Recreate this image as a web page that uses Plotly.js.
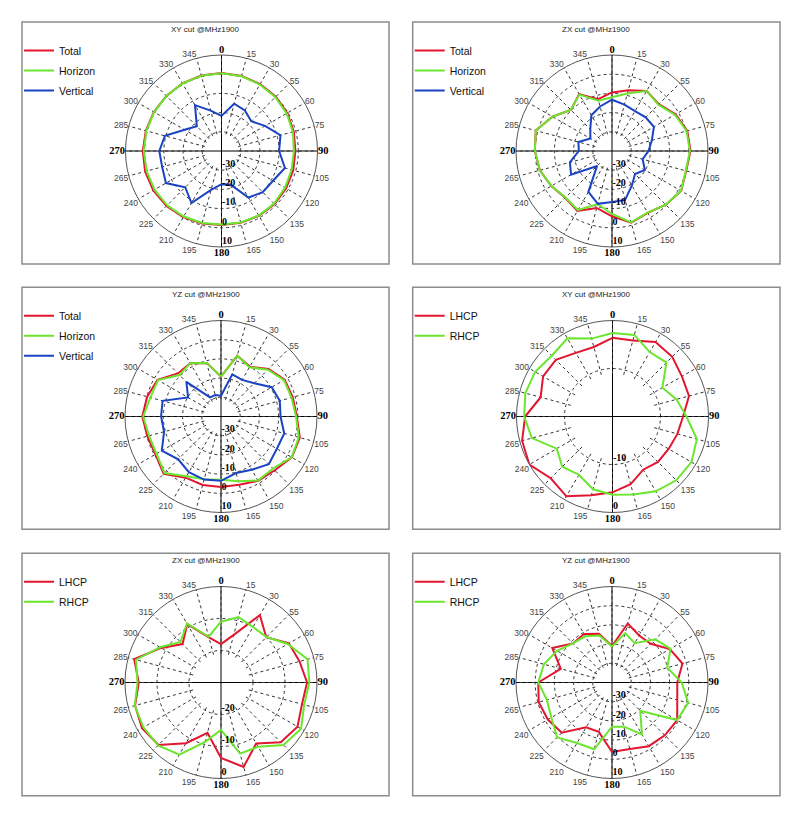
<!DOCTYPE html>
<html><head><meta charset="utf-8">
<script src="https://cdn.plot.ly/plotly-3.0.1.min.js"></script>
<style>html,body{margin:0;padding:0;background:#fff;} #chart{width:800px;height:816px;}</style>
</head><body><div id="chart"></div>
<script>
// ---- data (dB, one value every 15 degrees) ----
const angles = [0,15,30,45,60,75,90,105,120,135,150,165,180,195,210,225,240,255,270,285,300,315,330,345];
const angleLabels = ['0','15','30','55','60','75','90','105','120','135','150','165','180','195','210','225','240','265','270','285','300','315','330','345'];
const panelTitles = ['XY cut @MHz1900','ZX cut @MHz1900','YZ cut @MHz1900','XY cut @MHz1900','ZX cut @MHz1900','YZ cut @MHz1900'];

const xyTotal    = [0.6,0.5,0.2,0,-0.5,-1.0,-1.5,-1.3,-1.1,-0.9,-1.0,-1.3,-1.5,-0.9,-0.2,0.5,1.0,1.2,1.0,0.8,0.7,0.6,0.7,0.7];
const xyHorizon  = [0.5,0.3,0,-0.3,-0.8,-1.5,-2.3,-2.2,-1.8,-1.3,-1.2,-1.5,-1.7,-1.2,-0.6,0,0.3,0.4,0.5,0.5,0.5,0.5,0.6,0.6];
const xyVertical = [-21.7,-14.5,-15.6,-18.1,-13.8,-8.2,-10,-5.8,-9,-9.6,-12,-22,-22.7,-19,-8.7,-13.3,-6.6,-8,-7.6,-9.5,-17.8,-21.8,-12.4,-18.2];

const zxTotal    = [-9.5,-7.3,-3.9,-5.5,-1.8,0.6,0.9,0,1.6,-0.4,-2.8,-1.3,-6,-9.3,-4,-5.5,-3.5,-1.1,0.2,1.1,-4.2,-9.7,-5.8,-12.1];
const zxHorizon  = [-12,-9,-3.9,-5.9,-2.2,0.2,0.6,-0.2,1.5,-0.5,-3,-1.5,-7.2,-11.4,-4.5,-5.7,-3.6,-1.1,0.2,1.1,-4.2,-9.7,-6.1,-12.9];
const zxVertical = [-13.3,-15,-16,-15.2,-14.8,-18.5,-21,-23.5,-20.2,-23,-19.3,-13.6,-13.4,-11.5,-15.4,-29,-15.4,-17.3,-22.7,-21.9,-27,-24,-18.5,-16];

const yzTotal    = [-19.2,-7.2,-10,-5,-1.7,-1.3,-0.5,2.5,2.6,-0.4,-1.3,-3.2,-3.3,-3.1,-3.2,2.2,-0.5,-0.3,1,-0.2,-1.8,-8.3,-7.9,-11.1];
const yzHorizon  = [-19.2,-7.2,-10.4,-5.5,-2.1,-2,-0.9,1.9,2.5,-1.7,-1.5,-5.1,-7,-6.2,-4,1.6,-1.2,-1.2,0.5,-1.9,-2.1,-9.5,-7.9,-11.1];
const yzVertical = [-29.2,-17.3,-18,-15.5,-9.5,-8.3,-9,-5.9,-6.4,-4.8,-8,-9.5,-6.5,-6,-6.5,-8.5,-4.4,-9.3,-8.8,-8.5,-20.2,-14.5,-28.5,-28.4];

const xyLHCP = [-3.6,-3.6,-2.1,-2.4,-3.3,-3.5,-5.3,-6,-6.5,-6.6,-7.2,-5.4,-4.2,-3,-0.8,-1.8,0,-0.5,-1.8,-4.5,-3.3,-3.3,-4.7,-5];
const xyRHCP = [-2.6,-2.4,-4.5,-4.1,-8,-6.2,-4.6,-1.8,-1,-1.2,-2,-3.2,-3.7,-4.3,-6,-5.2,-6.6,-2.6,-1.6,-1.2,-1.4,-2.1,-1.2,-3.2];

const zxLHCP = [-18,-14.6,-5.7,-10,-5.5,-4.6,-3.1,-3.8,-2.4,-3.6,-8,-2.7,-6.4,-13.7,-8.1,-2.4,-1.5,-2.2,-4.3,-1.9,-8.4,-13,-8.9,-15.4];
const zxRHCP = [-11,-8.8,-10,-9.9,-5.9,-2,-2.4,-3.1,-1.1,-2.4,-6.8,-7,-15.2,-10.8,-4,-2.2,-2,-2.1,-3.9,-2.5,-8,-12.1,-8.7,-15.2];

const yzLHCP = [-21,-8.2,-11.7,-11.5,-5.2,-2,-6,-4.8,-0.8,-1.1,-1.7,-4.2,-3.8,-13.4,-13,-3,-1.4,-0.5,-1.6,-12.4,-4.1,-11.2,-10.8,-13.7];
const yzRHCP = [-21.3,-13.4,-16.4,-8.2,-4.8,-10.2,-3.7,1.1,-0.9,-19.2,-8.8,-16.2,-17,-4,-3.6,0.4,-3.5,-4.9,-1.6,-3.3,-6.9,-11.2,-12.2,-14.7];

// ---- styling / layout ----
const W = 800, H = 816, R = 96;
const RED = '#e2162f', GREEN = '#6be52d', BLUE = '#1a43c4';
const centers = [[221.5,151],[612,151],[221,416.5],[612.5,416.5],[221,682.5],[612,682.5]];
const boxes = [[22,22,389,264],[412.7,22,780,264],[22,287.3,389,529.3],[412.7,287.3,780,529.3],[22,553.3,389,795.7],[412.7,553.3,780,795.7]];
// dbPerR: dB from the plot centre to the outer ring; lo: innermost labelled ring
const radial = [
  {lo:-30, hi:10, span:50, ticks:[-30,-20,-10,0,10]},
  {lo:-30, hi:10, span:50, ticks:[-30,-20,-10,0,10]},
  {lo:-30, hi:10, span:50, ticks:[-30,-20,-10,0,10]},
  {lo:-10, hi:0, span:20, ticks:[-10,0]},
  {lo:-20, hi:0, span:30, ticks:[-20,-10,0]},
  {lo:-30, hi:10, span:50, ticks:[-30,-20,-10,0,10]}
];
const series = [
  [['Total',xyTotal,RED],['Horizon',xyHorizon,GREEN],['Vertical',xyVertical,BLUE]],
  [['Total',zxTotal,RED],['Horizon',zxHorizon,GREEN],['Vertical',zxVertical,BLUE]],
  [['Total',yzTotal,RED],['Horizon',yzHorizon,GREEN],['Vertical',yzVertical,BLUE]],
  [['LHCP',xyLHCP,RED],['RHCP',xyRHCP,GREEN]],
  [['LHCP',zxLHCP,RED],['RHCP',zxRHCP,GREEN]],
  [['LHCP',yzLHCP,RED],['RHCP',yzRHCP,GREEN]]
];

const cardinal = new Set(['0','90','180','270']);
const angTickText = angleLabels.map(t => cardinal.has(t)
  ? '<span style="font-family:Liberation Serif;font-size:10.5px;fill:#000"><b>'+t+'</b></span>' : t);

const data = [];
const layout = {
  width: W, height: H, margin:{l:0,r:0,t:0,b:0},
  paper_bgcolor:'#fff', showlegend:true,
  shapes:[], annotations:[]
};

series.forEach((ser, i) => {
  const sp = 'polar' + (i ? i+1 : '');
  const lg = 'legend' + (i ? i+1 : '');
  ser.forEach(([name, vals, color], k) => {
    data.push({
      type:'scatterpolar', mode:'lines', name:name,
      r: vals.concat([vals[0]]), theta: angles.concat([angles[0]]),
      subplot: sp, legend: lg, legendgroup: sp + name,
      line:{color:color, width:2}, hoverinfo:'skip'
    });
  });
  const [cx, cy] = centers[i];
  const rd = radial[i];
  const r0 = rd.lo - 1;                       // start the range a little inside the first ring
  const hole = 1 - (rd.hi - r0) / rd.span;     // keeps the centre at hi - span
  layout[sp] = {
    domain:{x:[(cx-R)/W,(cx+R)/W], y:[(H-cy-R)/H,(H-cy+R)/H]},
    bgcolor:'rgba(0,0,0,0)', hole: hole,
    angularaxis:{rotation:90, direction:'clockwise', tickmode:'array', tickvals:angles, ticktext:angTickText,
      showline:false, showgrid:true, gridcolor:'#333', griddash:'dot', gridwidth:1,
      ticks:'', tickfont:{family:'Liberation Sans', size:8.5, color:'#444'}},
    radialaxis:{range:[r0, rd.hi], tickmode:'array', tickvals:[r0].concat(rd.ticks),
      ticktext:[''].concat(rd.ticks.map(t => t + '<br>\u00a0')),
      angle:270, side:'counterclockwise', tickangle:-90, showline:false, ticks:'',
      showgrid:true, gridcolor:'#333', griddash:'dot', gridwidth:1,
      tickfont:{family:'Liberation Serif', size:10, color:'#000', weight:'bold'}}
  };
  const [bx0, by0, bx1, by1] = boxes[i];
  layout[lg] = {x:(bx0-3)/W, y:1-(by0+14)/H, xanchor:'left', yanchor:'top', bgcolor:'rgba(0,0,0,0)',
    tracegroupgap:1, font:{family:'Liberation Sans', size:10.5, color:'#111'}};
  layout.shapes.push({type:'rect', xref:'paper', yref:'paper', x0:bx0/W, x1:bx1/W, y0:1-by0/H, y1:1-by1/H,
    line:{color:'#8c8c8c', width:1.5}, layer:'below'});
  layout.shapes.push({type:'circle', xref:'paper', yref:'paper', x0:(cx-R)/W, x1:(cx+R)/W, y0:1-(cy-R)/H, y1:1-(cy+R)/H,
    line:{color:'#555', width:1}, layer:'below'});
  layout.shapes.push({type:'line', xref:'paper', yref:'paper', x0:(cx-R)/W, x1:(cx+R)/W, y0:1-cy/H, y1:1-cy/H,
    line:{color:'#000', width:1}, layer:'below'});
  layout.shapes.push({type:'line', xref:'paper', yref:'paper', x0:cx/W, x1:cx/W, y0:1-(cy-R)/H, y1:1-(cy+R)/H,
    line:{color:'#000', width:1}, layer:'below'});
  layout.annotations.push({xref:'paper', yref:'paper', x:(bx0+bx1)/2/W, y:1-(by0+7.5)/H, xanchor:'center', yanchor:'middle',
    text:panelTitles[i], showarrow:false, font:{family:'Liberation Sans', size:8, color:'#222'}});
});

Plotly.newPlot('chart', data, layout, {displayModeBar:false, staticPlot:true});
</script>
</body></html>
